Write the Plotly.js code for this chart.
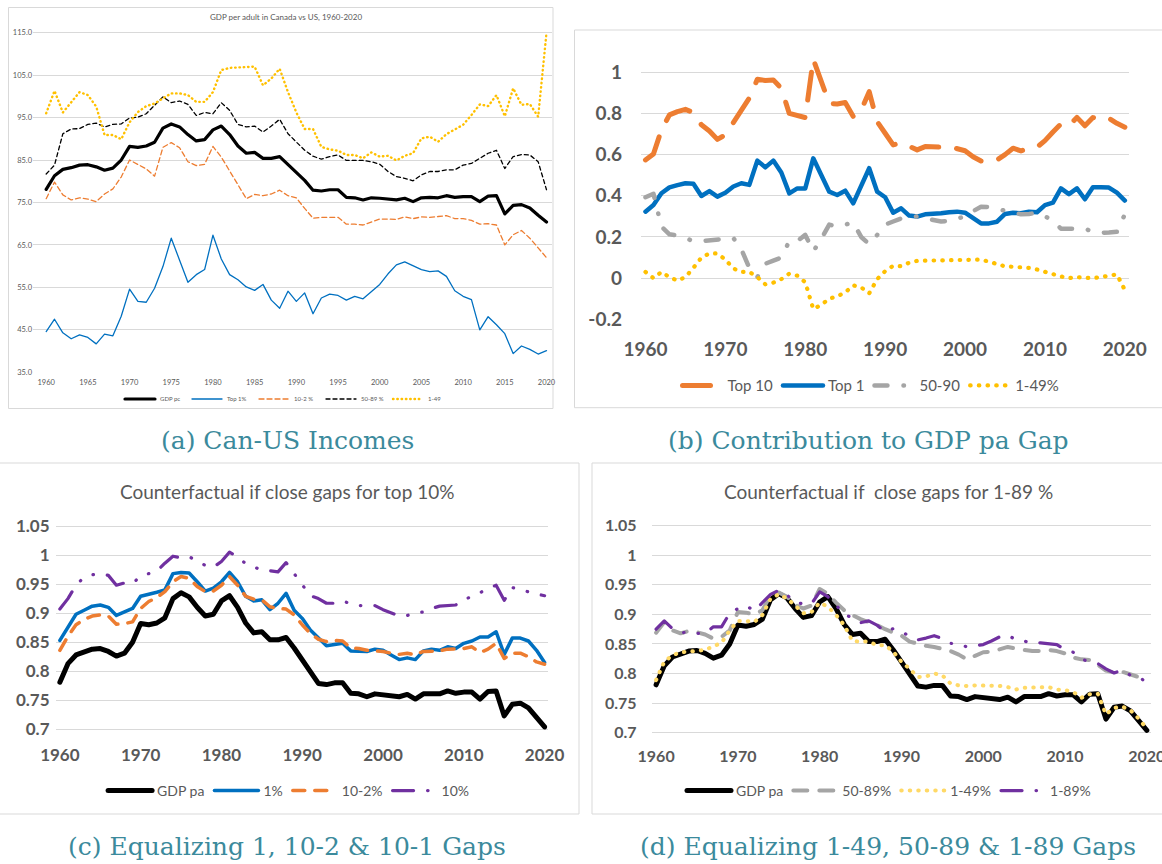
<!DOCTYPE html>
<html>
<head>
<meta charset="utf-8">
<script src="https://cdn.plot.ly/plotly-3.0.1.min.js"></script>
<style>
html,body{margin:0;padding:0;background:#fff;}
#chart{width:1162px;height:864px;}
</style>
</head>
<body>
<div id="chart"></div>
<script>
// ---------- categories ----------
const years = [1960,1961,1962,1963,1964,1965,1966,1967,1968,1969,
 1970,1971,1972,1973,1974,1975,1976,1977,1978,1979,
 1980,1981,1982,1983,1984,1985,1986,1987,1988,1989,
 1990,1991,1992,1993,1994,1995,1996,1997,1998,1999,
 2000,2001,2002,2003,2004,2005,2006,2007,2008,2009,
 2010,2011,2012,2013,2014,2015,2016,2017,2018,2019,2020];

// ---------- panel (a): GDP per adult in Canada vs US ----------
const aGdpPc = [78.1,81.3,82.8,83.2,83.8,83.9,83.4,82.6,83.1,85.0,
 88.2,88.0,88.3,89.2,92.5,93.5,92.8,91.0,89.5,89.8,
 92.1,93.0,91.0,88.3,86.6,86.8,85.4,85.4,85.8,84.0,
 82.0,80.2,77.9,77.7,78.0,78.0,76.2,76.1,75.6,76.1,
 76.0,75.8,75.6,76.0,75.2,76.1,76.2,76.1,76.6,76.2,
 76.4,76.4,75.2,76.5,76.6,72.3,74.3,74.5,73.7,72.0,70.4];
const aTop1 = [44.6,47.5,44.3,42.9,43.8,43.2,41.7,44.0,43.6,48.2,
 54.6,51.7,51.5,54.8,59.9,66.6,61.4,56.2,58.0,59.2,
 67.3,61.7,58.0,56.8,55.1,54.3,55.7,52.0,50.1,54.1,
 51.7,53.7,48.8,52.5,53.4,53.1,52.0,52.9,52.3,53.9,
 55.7,58.2,60.3,61.0,60.1,59.2,58.7,58.9,57.6,54.2,
 52.9,52.1,45.0,48.1,46.2,44.1,39.4,41.2,40.4,39.3,40.1];
const a10to2 = [75.9,79.8,76.8,75.6,76.1,75.8,75.2,77.0,78.2,81.0,
 85.0,84.0,82.9,81.2,88.0,89.1,87.9,84.6,83.7,84.0,
 88.2,85.7,82.5,79.1,75.9,76.9,76.6,77.0,77.9,76.6,
 76.1,73.6,71.3,71.5,71.5,71.5,69.9,69.9,69.7,70.4,
 71.1,71.1,71.0,71.6,71.2,71.6,71.5,71.7,71.9,71.2,
 71.2,70.8,69.9,70.0,69.7,65.0,67.4,68.4,66.6,64.3,62.0];
const a50to89 = [81.7,83.8,91.2,92.3,92.4,93.4,93.7,92.8,93.4,93.5,
 94.9,95.1,95.9,97.9,99.9,98.5,98.9,98.1,95.5,96.2,
 95.9,98.5,96.7,93.4,92.8,93.0,91.6,93.0,94.6,91.2,
 89.3,87.3,85.9,85.2,85.8,86.2,84.9,84.9,84.9,84.6,
 84.0,82.3,81.1,80.7,80.1,81.5,82.3,82.3,82.7,82.7,
 83.8,84.2,85.5,86.6,87.3,83.0,85.8,86.3,86.2,84.6,78.0];
const a1to49 = [96.0,101.3,96.2,98.5,101.0,100.3,97.6,90.9,90.9,89.9,
 93.9,96.3,97.7,98.3,99.5,100.7,100.7,100.3,98.7,98.7,
 101.0,106.2,106.7,106.8,106.8,107.0,102.6,104.2,106.5,101.0,
 96.2,92.3,92.3,88.1,87.5,87.2,86.2,86.2,85.4,86.8,
 85.8,86.0,84.9,86.0,86.6,90.1,90.5,89.3,91.1,92.1,
 93.3,95.6,98.1,97.7,100.3,95.3,101.9,98.0,98.2,95.2,115.0];
const aYTicks = [35,45,55,65,75,85,95,105,115];
const aYLabels = ['35.0','45.0','55.0','65.0','75.0','85.0','95.0','105.0','115.0'];
const aXTicks = [1960,1965,1970,1975,1980,1985,1990,1995,2000,2005,2010,2015,2020];

// ---------- panel (b): contribution to GDP pa gap ----------
const bTop10 = [0.574,0.603,0.72,0.793,0.809,0.82,0.804,0.745,0.715,0.674,
 0.696,0.755,0.82,0.875,0.966,0.96,0.963,0.922,0.80,0.79,
 0.78,1.063,0.947,0.849,0.846,0.853,0.785,0.817,0.906,0.76,
 0.704,0.647,0.658,0.64,0.623,0.639,0.636,0.636,0.639,0.63,
 0.619,0.59,0.569,0.566,0.574,0.60,0.631,0.618,0.631,0.636,
 0.668,0.71,0.749,0.739,0.781,0.74,0.78,0.768,0.777,0.752,0.733];
const bTop1 = [0.323,0.355,0.412,0.441,0.452,0.461,0.458,0.399,0.423,0.396,
 0.415,0.445,0.461,0.453,0.571,0.538,0.571,0.513,0.412,0.436,
 0.436,0.582,0.501,0.42,0.404,0.425,0.363,0.445,0.534,0.42,
 0.393,0.318,0.339,0.304,0.299,0.31,0.31,0.315,0.32,0.323,
 0.318,0.291,0.266,0.266,0.274,0.312,0.318,0.315,0.323,0.32,
 0.355,0.367,0.436,0.408,0.436,0.383,0.441,0.441,0.44,0.415,0.377];
const b50to90 = [0.393,0.41,0.25,0.213,0.208,0.195,0.18,0.18,0.185,0.19,
 0.19,0.195,0.14,0.05,0.005,0.07,0.085,0.10,0.18,0.18,
 0.21,0.13,0.19,0.26,0.25,0.262,0.27,0.20,0.165,0.21,
 0.26,0.275,0.29,0.295,0.30,0.29,0.28,0.275,0.278,0.29,
 0.30,0.325,0.347,0.345,0.335,0.328,0.318,0.31,0.312,0.316,
 0.30,0.28,0.24,0.24,0.245,0.24,0.225,0.22,0.222,0.225,0.31];
const b1to49 = [0.03,0.0,0.03,0.005,-0.012,0.005,0.05,0.10,0.12,0.12,
 0.09,0.047,0.03,0.03,0.005,-0.03,-0.022,-0.005,0.022,0.012,
 -0.02,-0.15,-0.13,-0.10,-0.088,-0.07,-0.035,-0.045,-0.074,-0.005,
 0.034,0.06,0.058,0.075,0.084,0.085,0.085,0.086,0.083,0.084,
 0.085,0.088,0.09,0.08,0.07,0.057,0.055,0.054,0.05,0.042,
 0.03,0.017,0.008,0.0,0.005,0.002,0.0,0.005,0.012,0.018,-0.058];
const bYTicks = [-0.2,0,0.2,0.4,0.6,0.8,1];
const bYLabels = ['-0.2','0','0.2','0.4','0.6','0.8','1'];
const decadeTicks = [1960,1970,1980,1990,2000,2010,2020];

// ---------- panels (c) and (d): counterfactuals ----------
const gdpPa = [0.781,0.813,0.828,0.832,0.838,0.839,0.834,0.826,0.831,0.85,
 0.882,0.88,0.883,0.892,0.925,0.935,0.928,0.91,0.895,0.898,
 0.921,0.93,0.91,0.883,0.866,0.868,0.854,0.854,0.858,0.84,
 0.82,0.802,0.779,0.777,0.78,0.78,0.762,0.761,0.756,0.761,
 0.76,0.758,0.756,0.76,0.752,0.761,0.762,0.761,0.766,0.762,
 0.764,0.764,0.752,0.765,0.766,0.723,0.743,0.745,0.737,0.72,0.704];
const c1pct = [0.853,0.877,0.898,0.905,0.912,0.914,0.91,0.896,0.902,0.908,
 0.929,0.932,0.936,0.94,0.968,0.97,0.969,0.954,0.938,0.943,
 0.954,0.97,0.954,0.929,0.921,0.923,0.906,0.917,0.934,0.905,
 0.891,0.871,0.857,0.844,0.846,0.848,0.835,0.835,0.834,0.838,
 0.836,0.828,0.82,0.823,0.82,0.835,0.838,0.836,0.842,0.839,
 0.848,0.852,0.859,0.859,0.868,0.829,0.857,0.857,0.852,0.836,0.815];
const c10to2 = [0.836,0.86,0.88,0.889,0.895,0.897,0.895,0.881,0.882,0.885,
 0.908,0.92,0.927,0.937,0.954,0.963,0.96,0.946,0.937,0.938,
 0.948,0.963,0.948,0.929,0.924,0.923,0.911,0.908,0.907,0.897,
 0.88,0.865,0.855,0.851,0.853,0.852,0.84,0.839,0.836,0.835,
 0.834,0.831,0.829,0.831,0.828,0.834,0.834,0.835,0.838,0.838,
 0.839,0.842,0.832,0.838,0.848,0.822,0.831,0.831,0.825,0.816,0.812];
const c10pct = [0.907,0.925,0.948,0.962,0.966,0.968,0.965,0.948,0.952,0.951,
 0.964,0.968,0.972,0.986,0.998,0.995,0.997,0.99,0.982,0.979,
 0.989,1.005,0.997,0.985,0.979,0.974,0.973,0.971,0.987,0.968,
 0.95,0.93,0.925,0.917,0.917,0.921,0.916,0.913,0.913,0.913,
 0.906,0.901,0.895,0.896,0.90,0.902,0.908,0.912,0.913,0.914,
 0.924,0.928,0.935,0.943,0.948,0.922,0.944,0.94,0.937,0.933,0.93];
const d50to89 = [0.869,0.887,0.873,0.868,0.872,0.87,0.866,0.859,0.862,0.873,
 0.904,0.903,0.90,0.907,0.933,0.937,0.93,0.916,0.91,0.915,
 0.943,0.935,0.92,0.907,0.899,0.892,0.887,0.882,0.875,0.87,
 0.864,0.854,0.85,0.847,0.845,0.841,0.838,0.832,0.824,0.83,
 0.836,0.837,0.841,0.845,0.842,0.84,0.838,0.838,0.84,0.838,
 0.834,0.827,0.824,0.823,0.815,0.805,0.802,0.803,0.798,0.794,0.804];
const d1to49 = [0.789,0.82,0.831,0.836,0.837,0.838,0.84,0.846,0.852,0.873,
 0.889,0.889,0.887,0.899,0.927,0.934,0.927,0.915,0.902,0.904,
 0.92,0.913,0.899,0.882,0.855,0.854,0.854,0.848,0.848,0.837,
 0.82,0.808,0.794,0.795,0.80,0.797,0.783,0.78,0.779,0.78,
 0.78,0.779,0.779,0.777,0.773,0.776,0.776,0.777,0.777,0.773,
 0.772,0.769,0.759,0.765,0.766,0.731,0.742,0.744,0.738,0.724,0.707];
const d1to89 = [0.875,0.889,0.876,0.869,0.87,0.868,0.868,0.879,0.879,0.902,
 0.91,0.915,0.906,0.921,0.934,0.941,0.933,0.92,0.918,0.918,
 0.938,0.93,0.916,0.899,0.895,0.886,0.889,0.882,0.871,0.876,
 0.872,0.862,0.857,0.86,0.864,0.859,0.851,0.85,0.845,0.847,
 0.849,0.855,0.862,0.865,0.857,0.855,0.851,0.852,0.85,0.849,
 0.84,0.836,0.824,0.821,0.817,0.808,0.801,0.806,0.797,0.795,0.784];
const cdYTicks = [0.7,0.75,0.8,0.85,0.9,0.95,1,1.05];
const cdYLabels = ['0.7','0.75','0.8','0.85','0.9','0.95','1','1.05'];

// ---------- texts ----------
const titleA = 'GDP per adult in Canada vs US, 1960-2020';
const titleC = 'Counterfactual if close gaps for top 10%';
const titleD = 'Counterfactual if\u00a0 close gaps for 1-89 %';
const captions = ['(a) Can-US Incomes','(b) Contribution to GDP pa Gap',
  '(c) Equalizing 1, 10-2 &amp; 10-1 Gaps','(d) Equalizing 1-49, 50-89 &amp; 1-89 Gaps'];
const namesA = ['GDP pc','Top 1%','10-2 %','50-89 %','1-49'];
const namesB = ['Top 10','Top 1','50-90','1-49%'];
const namesC = ['GDP pa','1%','10-2%','10%'];
const namesD = ['GDP pa','50-89%','1-49%','1-89%'];

// ---------- styling ----------
const W = 1162, H = 864;
const px = v => v / W;
const py = v => 1 - v / H;
const GRAY = '#595959';
const GRID = '#d9d9d9';
const ORANGE = '#ed7d31', BLUE = '#0070c0', YELLOW = '#ffc000', LGRAY = '#a5a5a5', PURPLE = '#7030a0';
const FONT = 'Lato, "Open Sans", sans-serif';

function tr(y, name, ax, leg, line) {
  return {x: years, y: y, name: name, type: 'scatter', mode: 'lines',
    xaxis: 'x' + ax, yaxis: 'y' + ax, legend: leg, line: line, hoverinfo: 'skip'};
}
const dashDotDot = '21px,14px,0.5px,14px,0.5px,14px';

const traces = [
  tr(aGdpPc, namesA[0], '', 'legend', {color: '#000000', width: 3.2}),
  tr(aTop1, namesA[1], '', 'legend', {color: BLUE, width: 1.3}),
  tr(a10to2, namesA[2], '', 'legend', {color: ORANGE, width: 1.3, dash: '5px,3px'}),
  tr(a50to89, namesA[3], '', 'legend', {color: '#000000', width: 1.3, dash: '4px,3px'}),
  tr(a1to49, namesA[4], '', 'legend', {color: YELLOW, width: 2.4, dash: '0.5px,3.8px'}),

  tr(bTop10, namesB[0], '2', 'legend2', {color: ORANGE, width: 5, dash: '28px,18px'}),
  tr(bTop1, namesB[1], '2', 'legend2', {color: BLUE, width: 4.5}),
  tr(b50to90, namesB[2], '2', 'legend2', {color: LGRAY, width: 4.5, dash: '13px,16px,0.5px,16px'}),
  tr(b1to49, namesB[3], '2', 'legend2', {color: YELLOW, width: 4.2, dash: '0.5px,8.2px'}),

  tr(gdpPa, namesC[0], '3', 'legend3', {color: '#000000', width: 5}),
  tr(c1pct, namesC[1], '3', 'legend3', {color: BLUE, width: 3.5}),
  tr(c10to2, namesC[2], '3', 'legend3', {color: ORANGE, width: 3.5, dash: '12px,10px'}),
  tr(c10pct, namesC[3], '3', 'legend3', {color: PURPLE, width: 3.2, dash: dashDotDot}),

  tr(gdpPa, namesD[0], '4', 'legend4', {color: '#000000', width: 5}),
  tr(d50to89, namesD[1], '4', 'legend4', {color: LGRAY, width: 4, dash: '14px,12px'}),
  tr(d1to49, namesD[2], '4', 'legend4', {color: '#ffd966', width: 4, dash: '0.5px,8px'}),
  tr(d1to89, namesD[3], '4', 'legend4', {color: PURPLE, width: 3.2, dash: dashDotDot})
];

function xax(dom, rng, ticks, size, bold, anchor, standoff) {
  return {domain: dom, range: rng, anchor: anchor, tickmode: 'array', tickvals: ticks,
    ticktext: ticks.map(String), showgrid: false, zeroline: false, showline: false, ticks: '',
    ticklabelstandoff: standoff, ticklabeloverflow: 'allow',
    tickfont: {family: FONT, size: size, color: GRAY, weight: bold ? 'bold' : 'normal'}, fixedrange: true};
}
function yax(dom, rng, ticks, labels, size, bold, anchor, standoff) {
  return {domain: dom, range: rng, anchor: anchor, tickmode: 'array', tickvals: ticks, ticktext: labels,
    showgrid: true, gridcolor: GRID, gridwidth: 1, zeroline: false, showline: false, ticks: '',
    ticklabelstandoff: standoff, ticklabeloverflow: 'allow',
    tickfont: {family: FONT, size: size, color: GRAY, weight: bold ? 'bold' : 'normal'}, fixedrange: true};
}
function leg(x, y, size, iw, ew) {
  const l = {x: x, y: y, xanchor: 'center', yanchor: 'middle', orientation: 'h',
    bgcolor: 'rgba(0,0,0,0)', font: {family: FONT, size: size, color: GRAY}, itemwidth: iw,
    itemclick: false, itemdoubleclick: false};
  if (ew) { l.entrywidth = ew; l.entrywidthmode = 'pixels'; }
  return l;
}
function ann(text, x, y, size, family, color) {
  return {text: text, x: x, y: y, xref: 'paper', yref: 'paper', xanchor: 'center', yanchor: 'middle',
    showarrow: false, font: {family: family, size: size, color: color}};
}
function box(x0, y0, x1, y1) {
  return {type: 'rect', xref: 'paper', yref: 'paper', x0: px(x0), x1: px(x1), y0: py(y1), y1: py(y0),
    line: {color: GRID, width: 1}, fillcolor: 'rgba(0,0,0,0)', layer: 'below'};
}
const CAPFONT = '"DejaVu Serif", serif';
const CAPCOL = '#3b8a9c';

const layout = {
  width: W, height: H, margin: {l: 0, r: 0, t: 0, b: 0},
  paper_bgcolor: '#ffffff', plot_bgcolor: 'rgba(0,0,0,0)',
  showlegend: true, hovermode: false,
  font: {family: FONT, color: GRAY},
  xaxis: xax([px(33), px(552)], [1958.42, 2020.66], aXTicks, 7.5, false, 'y', 4),
  yaxis: yax([py(372.3), py(31.4)], [35, 115.3], aYTicks, aYLabels, 7.5, false, 'x', 0),
  xaxis2: xax([px(641), px(1128.7)], [1959.44, 2020.48], decadeTicks, 19, true, 'y2', 17),
  yaxis2: yax([py(319.3), py(51.7)], [-0.2, 1.1], bYTicks, bYLabels, 19, true, 'x2', 18),
  xaxis3: xax([px(55.5), px(547.5)], [1959.46, 2020.36], decadeTicks, 17, true, 'y3', 8),
  yaxis3: yax([py(735.1), py(520.2)], [0.69, 1.06], cdYTicks, cdYLabels, 17, true, 'x3', 5),
  xaxis4: xax([px(651.6), px(1150.5)], [1959.45, 2020.45], decadeTicks, 16, true, 'y4', 6),
  yaxis4: yax([py(738.6), py(519.8)], [0.69, 1.06], cdYTicks, cdYLabels, 16, true, 'x4', 14),
  legend: leg(px(287.5), py(399), 6, 30, 22),
  legend2: leg(px(871), py(385.7), 15, 40),
  legend3: leg(px(288.6), py(791), 14, 44),
  legend4: leg(px(889), py(791), 14, 44),
  annotations: [
    ann(titleA, px(285.7), py(17), 8, FONT, GRAY),
    ann(titleC, px(286.7), py(491), 19, FONT, GRAY),
    ann(titleD, px(888), py(491), 19, FONT, GRAY),
    ann(captions[0], px(287), py(440), 25, CAPFONT, CAPCOL),
    ann(captions[1], px(868), py(440), 25, CAPFONT, CAPCOL),
    ann(captions[2], px(286.7), py(846.7), 25, CAPFONT, CAPCOL),
    ann(captions[3], px(888), py(846.7), 25, CAPFONT, CAPCOL)
  ],
  shapes: [
    box(8.5, 7.5, 553, 408.5),
    box(574.5, 30, 1175, 407.7),
    box(-10, 463, 579, 814),
    box(592, 463, 1175, 814)
  ]
};

Plotly.newPlot('chart', traces, layout, {displayModeBar: false, staticPlot: true}).then(function () {
  document.querySelectorAll('path.js-line').forEach(function (p) {
    p.style.strokeLinecap = 'round';
    p.style.strokeLinejoin = 'round';
  });
});
</script>
</body>
</html>
